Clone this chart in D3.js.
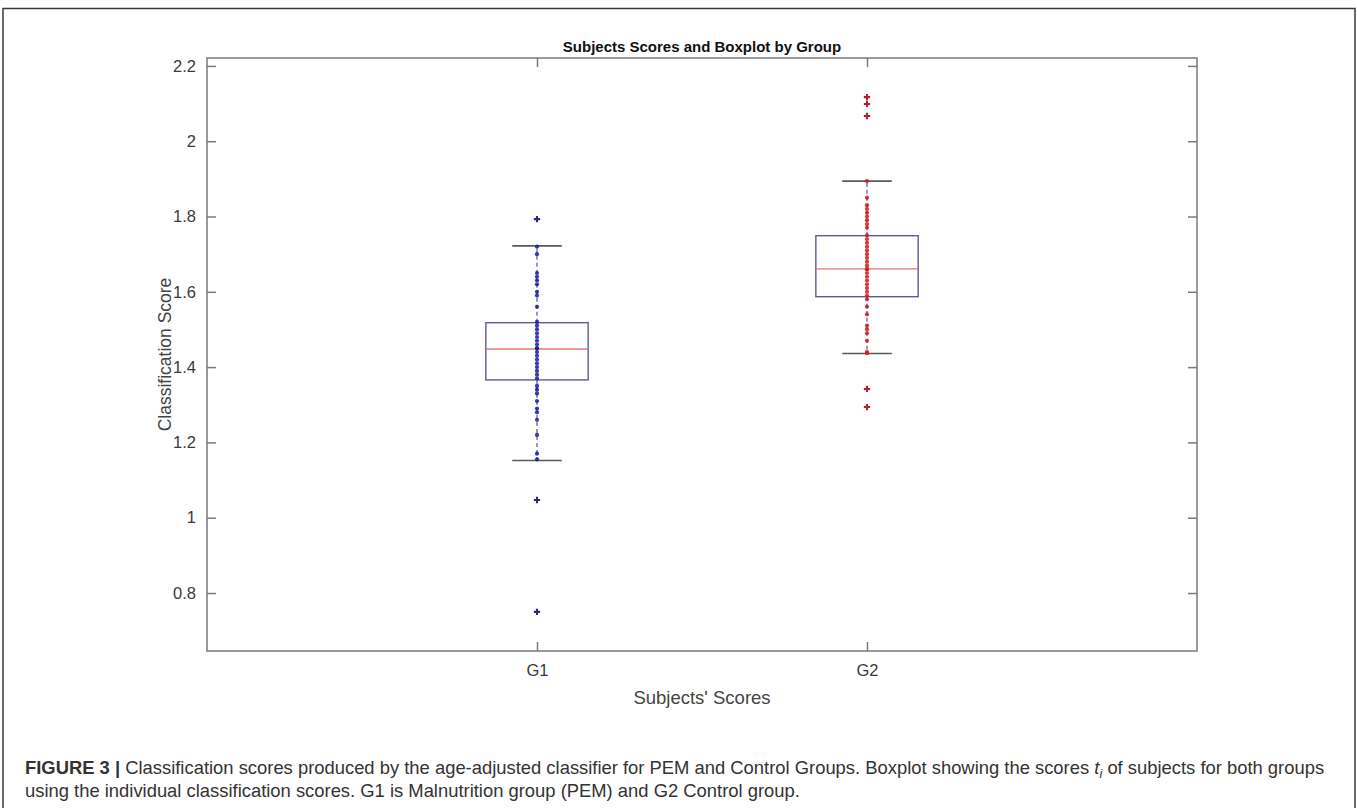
<!DOCTYPE html>
<html>
<head>
<meta charset="utf-8">
<script src="https://cdn.jsdelivr.net/npm/d3@7/dist/d3.min.js"></script>
<style>
  html, body { margin: 0; padding: 0; background: #fff; }
  svg { display: block; }
</style>
</head>
<body>
<svg id="chart" width="1357" height="808"></svg>
<script>
// ---------- data ----------
const groups = ["G1", "G2"];
const groupPos = [1, 2];
const yTicks = [0.8, 1, 1.2, 1.4, 1.6, 1.8, 2, 2.2];

// box statistics per group
const q1 = [1.366, 1.587];
const median = [1.448, 1.661];
const q3 = [1.518, 1.749];
const whiskerLow = [1.152, 1.436];
const whiskerHigh = [1.722, 1.894];

// individual subject scores (inside whiskers)
const scoresG1 = [1.72, 1.70, 1.65, 1.64, 1.63, 1.62, 1.60, 1.59, 1.56, 1.52, 1.51, 1.50, 1.49, 1.48,
  1.47, 1.46, 1.45, 1.45, 1.44, 1.43, 1.42, 1.41, 1.40, 1.39, 1.38, 1.37, 1.35, 1.34, 1.33, 1.31,
  1.29, 1.28, 1.26, 1.22, 1.17, 1.155];
const scoresG2 = [1.894, 1.85, 1.83, 1.82, 1.81, 1.80, 1.79, 1.78, 1.77, 1.75, 1.74, 1.73, 1.72,
  1.71, 1.70, 1.69, 1.68, 1.67, 1.66, 1.66, 1.65, 1.64, 1.63, 1.62, 1.61, 1.60, 1.59, 1.58, 1.56,
  1.54, 1.51, 1.50, 1.49, 1.47, 1.44, 1.437];
// outliers
const outliersG1 = [1.793, 1.047, 0.750];
const outliersG2 = [2.117, 2.099, 2.067, 1.342, 1.294];

const title = "Subjects Scores and Boxplot by Group";
const xLabel = "Subjects' Scores";
const yLabel = "Classification Score";
const captionBold = "FIGURE 3 |";
const captionLine1 = " Classification scores produced by the age-adjusted classifier for PEM and Control Groups. Boxplot showing the scores ";
const captionLine1b = " of subjects for both groups";
const captionLine2 = "using the individual classification scores. G1 is Malnutrition group (PEM) and G2 Control group.";

// ---------- layout ----------
const svg = d3.select("#chart");
const L = 207, R = 1197, T = 58, B = 651;
const x = d3.scaleLinear().domain([0, 3]).range([L, R]);
const y = d3.scaleLinear().domain([0.646, 2.221]).range([B, T]);
const axisColor = "#7a7a7a";
const font = "'Liberation Sans', Arial, Helvetica, sans-serif";

// outer frame
svg.append("path")
  .attr("d", `M3,812 L3,8.5 L1355,8.5 L1355,812`)
  .attr("fill", "none").attr("stroke", "#3a3a3a").attr("stroke-width", 1.5);

// plot box
svg.append("rect").attr("x", L).attr("y", T).attr("width", R - L).attr("height", B - T)
  .attr("fill", "#fff").attr("stroke", axisColor).attr("stroke-width", 1.5);

// axes
const tickLen = 9;
const yAxisL = svg.append("g").attr("transform", `translate(${L},0)`)
  .call(d3.axisLeft(y).tickValues(yTicks).tickSize(-tickLen).tickPadding(11).tickFormat(d3.format("")));
const yAxisR = svg.append("g").attr("transform", `translate(${R},0)`)
  .call(d3.axisRight(y).tickValues(yTicks).tickSize(-tickLen).tickFormat(""));
const xAxisB = svg.append("g").attr("transform", `translate(0,${B})`)
  .call(d3.axisBottom(x).tickValues(groupPos).tickSize(-tickLen).tickPadding(13)
    .tickFormat((d, i) => groups[i]));
const xAxisT = svg.append("g").attr("transform", `translate(0,${T})`)
  .call(d3.axisTop(x).tickValues(groupPos).tickSize(-tickLen).tickFormat(""));
[yAxisL, yAxisR, xAxisB, xAxisT].forEach(g => {
  g.select(".domain").remove();
  g.selectAll(".tick line").attr("stroke", axisColor).attr("stroke-width", 1.5);
  g.selectAll(".tick text").attr("fill", "#3a3a3a").style("font-family", font).style("font-size", "16.5px");
});

// ---------- boxplots ----------
const boxHalf = 0.155, capHalf = 0.075;
const colors = ["#1a1aa0", "#d01818"];
const scoreSets = [scoresG1, scoresG2];
const outlierSets = [outliersG1, outliersG2];

groups.forEach((g, i) => {
  const cx = x(groupPos[i]);
  const G = svg.append("g");
  // whiskers (dashed)
  G.append("line").attr("x1", cx).attr("x2", cx).attr("y1", y(q3[i])).attr("y2", y(whiskerHigh[i]))
    .attr("stroke", "#555a80").attr("stroke-width", 1.2).attr("stroke-dasharray", "4,3");
  G.append("line").attr("x1", cx).attr("x2", cx).attr("y1", y(q1[i])).attr("y2", y(whiskerLow[i]))
    .attr("stroke", "#555a80").attr("stroke-width", 1.2).attr("stroke-dasharray", "4,3");
  // caps
  [whiskerHigh[i], whiskerLow[i]].forEach(v => {
    G.append("line").attr("x1", x(groupPos[i] - capHalf)).attr("x2", x(groupPos[i] + capHalf))
      .attr("y1", y(v)).attr("y2", y(v)).attr("stroke", "#5a5a5a").attr("stroke-width", 1.6);
  });
  // box
  G.append("rect").attr("x", x(groupPos[i] - boxHalf)).attr("y", y(q3[i]))
    .attr("width", x(groupPos[i] + boxHalf) - x(groupPos[i] - boxHalf))
    .attr("height", y(q1[i]) - y(q3[i]))
    .attr("fill", "none").attr("stroke", "#5c5c9c").attr("stroke-width", 1.4);
  // median
  G.append("line").attr("x1", x(groupPos[i] - boxHalf)).attr("x2", x(groupPos[i] + boxHalf))
    .attr("y1", y(median[i])).attr("y2", y(median[i])).attr("stroke", "#e07a6a").attr("stroke-width", 1.4);
  // subject scores as dots
  G.selectAll("circle.s").data(scoreSets[i]).enter().append("circle")
    .attr("cx", cx).attr("cy", d => y(d)).attr("r", 2.1)
    .attr("fill", colors[i]).attr("opacity", 0.85);
  // outliers as plus markers
  const sym = d3.symbol().type(d3.symbolCross).size(22);
  G.selectAll("path.o").data(outlierSets[i]).enter().append("path")
    .attr("d", sym).attr("transform", d => `translate(${cx},${y(d)})`)
    .attr("fill", i === 0 ? "#2a2a80" : "#b02030");
});

// ---------- titles ----------
svg.append("text").attr("x", (L + R) / 2).attr("y", 52).attr("text-anchor", "middle")
  .style("font-family", "'Liberation Sans Narrow', 'Liberation Sans', Arial, sans-serif")
  .style("font-weight", "bold").style("font-size", "15px").attr("fill", "#111").text(title);
svg.append("text").attr("x", (L + R) / 2).attr("y", 704).attr("text-anchor", "middle")
  .style("font-family", font).style("font-size", "18.5px").attr("fill", "#444").text(xLabel);
svg.append("text").attr("transform", `translate(171,${(T + B) / 2}) rotate(-90)`).attr("text-anchor", "middle")
  .style("font-family", font).style("font-size", "17.5px").attr("fill", "#444").text(yLabel);

// ---------- caption ----------
const capSize = "18.4px";
const cap1 = svg.append("text").attr("x", 25).attr("y", 774)
  .style("font-family", font).style("font-size", capSize).attr("fill", "#333");
cap1.append("tspan").style("font-weight", "bold").text(captionBold);
cap1.append("tspan").text(captionLine1);
cap1.append("tspan").style("font-style", "italic").text("t");
cap1.append("tspan").style("font-style", "italic").style("font-size", "13px").attr("dy", 4).text("i");
cap1.append("tspan").attr("dy", -4).text(captionLine1b);
svg.append("text").attr("x", 25).attr("y", 797)
  .style("font-family", font).style("font-size", capSize).attr("fill", "#333").text(captionLine2);
</script>
</body>
</html>
